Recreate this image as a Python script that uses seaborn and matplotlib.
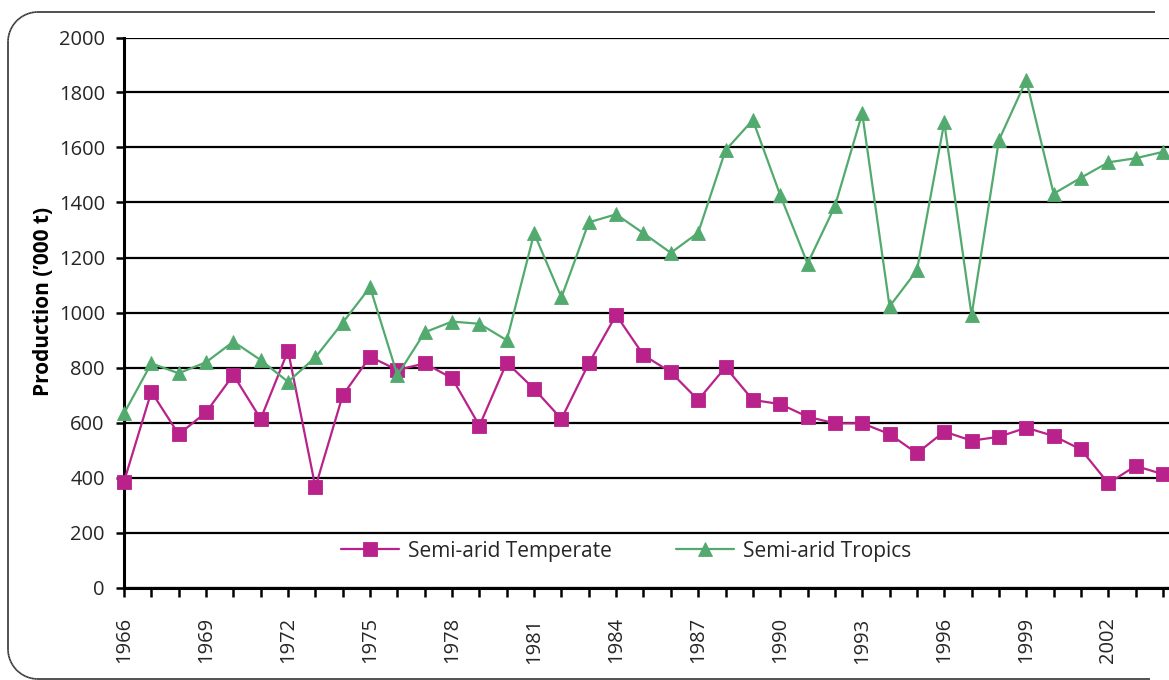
import numpy as np
import pandas as pd
import matplotlib
matplotlib.use("Agg")
import matplotlib.pyplot as plt
import seaborn as sns
from matplotlib.collections import LineCollection

# ---- data ----
years = list(range(1966, 2005))
temperate = [385, 712, 557, 637, 773, 613, 861, 365, 699, 839, 791,
             815, 761, 588, 818, 722, 613, 815, 991, 845, 783,
             682, 801, 682, 667, 621, 597, 597, 558, 488,
             567, 534, 548, 581, 551, 502, 379, 442, 412]
tropics = [633, 815, 779, 819, 894, 827, 748, 837, 963, 1092, 772,
           928, 967, 959, 899, 1288, 1055, 1328, 1357, 1288, 1217,
           1290, 1590, 1700, 1427, 1178, 1386, 1724, 1022, 1153,
           1691, 990, 1627, 1845, 1432, 1490, 1546, 1561, 1584]
series_names = ["Semi-arid Temperate", "Semi-arid Tropics"]
y_ticks = [0, 200, 400, 600, 800, 1000, 1200, 1400, 1600, 1800, 2000]
x_label_years = list(range(1966, 2003, 3))
y_label = "Production (\u2019000 t)"

df = pd.DataFrame({
    "Year": years * 2,
    "Production": temperate + tropics,
    "Series": [series_names[0]] * len(years) + [series_names[1]] * len(years),
})

sns.set_theme(style="white")
plt.rcParams["font.family"] = ["Open Sans", "DejaVu Sans"]

W, H = 1169, 680
fig = plt.figure(figsize=(W / 100, H / 100), dpi=100)
ax = fig.add_axes([124 / W, 92.5 / H, 1 - 124 / W, 550 / H])

palette = {series_names[0]: "#B8228A", series_names[1]: "#52AA6E"}
markers = {series_names[0]: "s", series_names[1]: "^"}

sns.lineplot(data=df, x="Year", y="Production", hue="Series", style="Series",
             palette=palette, markers=markers, dashes=False, ax=ax,
             linewidth=1.6, markersize=10.5, markeredgewidth=0.6,
             markeredgecolor=None, legend=True, zorder=3)
for ln in ax.get_lines():
    ln.set_markeredgecolor(ln.get_color())
    ln.set_clip_on(False)

ax.set_xlim(1966, 2004.22)
ax.set_ylim(0, 2000)
ax.set_yticks(y_ticks)
ax.set_xticks(years, minor=False)
ax.set_xticklabels([str(y) if y in x_label_years else "" for y in years],
                   rotation=90, fontsize=14.5)
ax.tick_params(axis="y", labelsize=14.5, length=5.8, width=1.8, direction="out",
               pad=8, left=True, color="black")
ax.tick_params(axis="x", length=6.5, width=1.8, direction="out", pad=15,
               bottom=True, color="black")

ax.grid(axis="y", color="black", linewidth=1.6, zorder=0)
ax.grid(axis="x", visible=False)
ax.set_axisbelow(True)
for side in ["top", "right"]:
    ax.spines[side].set_visible(False)
for side in ["left", "bottom"]:
    ax.spines[side].set_color("black")
    ax.spines[side].set_linewidth(2.2)

ax.set_xlabel("")
ax.set_ylabel(y_label, fontsize=15, fontweight="bold", color="black")
ax.yaxis.set_label_coords(-0.067, 0.52)

sns.move_legend(ax, loc="center", bbox_to_anchor=(0.4804, 0.066), ncol=2,
                frameon=False, title=None, fontsize=15, handlelength=2.8,
                handletextpad=0.4, columnspacing=3.1)

# rounded outer frame on the left side only (right side cropped off),
# drawn as independent short segments
def arc(cx, cy, r, a0, a1, n=30):
    t = np.radians(np.linspace(a0, a1, n))
    return list(cx + r * np.cos(t)), list(cy - r * np.sin(t))

r = 30
xs, ys = [1155.0], [12.0]
for cx, cy, a0, a1 in [(38, 42, 90, 180), (38, 649, 180, 270)]:
    a, b = arc(cx, cy, r, a0, a1)
    xs += a
    ys += b
xs += [1150.0]
ys += [679.0]
xs = np.array(xs) / W
ys = (H - np.array(ys)) / H
pts = np.column_stack([xs, ys])
segs = [pts[i:i + 2] for i in range(len(pts) - 1)]
fig.add_artist(LineCollection(segs, transform=fig.transFigure,
                              colors="#333333", linewidths=1.2,
                              capstyle="butt"))

fig.savefig("out.png", dpi=100)
